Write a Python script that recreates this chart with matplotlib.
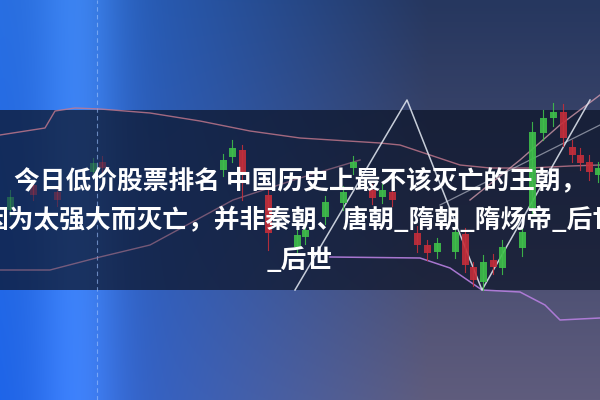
import numpy as np
import matplotlib
matplotlib.use("Agg")
import matplotlib.pyplot as plt
from matplotlib.patches import Rectangle

# TITLE LINES (CENTRED, OVERFLOWING THE IMAGE LIKE THE ORIGINAL)
title_lines = ["今日低价股票排名 中国历史上最不该灭亡的王朝，",
               "因为太强大而灭亡，并非秦朝、唐朝_隋朝_隋炀帝_后世",
               "_后世"]

# CANDLES: POSITION, OPEN, CLOSE, HIGH, LOW (IMAGE ROWS, SMALLER = HIGHER)
candle_x = [10, 33, 57, 93, 102, 223, 232, 242, 268, 297, 305, 325, 343,
            353, 372, 382, 392, 417, 427, 437, 455, 465, 473, 483, 493,
            502, 522, 532, 543, 553, 563, 572, 580, 589, 598]
candle_open = [210, 185, 192, 172, 162, 170, 157, 150, 195, 247, 237, 217,
               203, 168, 190, 197, 192, 233, 245, 252, 252, 234, 267, 282,
               260, 268, 248, 208, 133, 118, 112, 147, 155, 162, 175]
candle_close = [197, 195, 200, 163, 168, 160, 148, 173, 233, 235, 230, 202,
                192, 162, 198, 190, 200, 245, 253, 243, 232, 265, 280, 262,
                267, 247, 232, 132, 118, 112, 138, 155, 163, 172, 168]
candle_high = [190, 180, 186, 158, 156, 154, 140, 145, 188, 228, 224, 196,
               186, 156, 184, 184, 186, 226, 240, 238, 226, 228, 262, 255,
               254, 240, 226, 122, 110, 103, 104, 140, 148, 155, 162]
candle_low = [216, 200, 206, 178, 174, 176, 162, 200, 250, 255, 244, 224,
              210, 174, 204, 203, 206, 252, 260, 258, 258, 272, 286, 290,
              274, 274, 256, 215, 140, 126, 146, 162, 170, 180, 182]

# INDICATOR LINES
ma_upper_x = [0, 45, 55, 75, 100, 150, 200, 250, 300, 380, 400, 430, 460,
              490, 530, 570, 600]
ma_upper_y = [135, 128, 111, 108, 109, 113, 121, 131, 138, 143, 145, 155,
              165, 168, 168, 166, 165]
ma_lower_x = [0, 50, 100, 150, 233, 300, 360]
ma_lower_y = [270, 270, 257, 245, 200, 178, 160]
ma_rise_x = [470, 520, 560, 600]
ma_rise_y = [200, 160, 125, 95]
purple_x = [330, 420, 450, 482, 520, 545, 560, 600]
purple_y = [257, 258, 268, 290, 292, 305, 320, 318]
zigzag_x = [295, 407, 482, 590]
zigzag_y = [290, 100, 290, 100]
grey_x = [440, 500, 560, 600]
grey_y = [205, 175, 145, 125]

# BACKGROUND: BLUE GRADIENT WITH A LIGHT BEAM ON THE LEFT
W, H = 600, 400
xx, yy = np.meshgrid(np.linspace(0, 1, W), np.linspace(0, 1, H))
top = np.array([40, 110, 225]) / 255
top_r = np.array([38, 55, 95]) / 255
bot = np.array([30, 100, 232]) / 255
bot_r = np.array([95, 92, 125]) / 255
t = np.clip(xx * 1.4, 0, 1)[..., None]
v = yy[..., None]
left = top * (1 - v) + bot * v
right = top_r * (1 - v) + bot_r * v
bg = left * (1 - t) + right * t
beam = np.exp(-((xx - 0.13) / 0.07) ** 2)[..., None]
bg = np.clip(bg + beam * np.array([0.08, 0.12, 0.15]), 0, 1)

fig = plt.figure(figsize=(6, 4), dpi=100)
ax = fig.add_axes([0, 0, 1, 1])
ax.imshow(bg, extent=[0, W, H, 0], aspect="auto", zorder=0)

# DARK BAND BEHIND THE TITLE
ax.add_patch(Rectangle((0, 110), W, 180, color="#0c1428", alpha=0.72,
                       lw=0, zorder=1))

# VERTICAL DASHED GUIDE
ax.axvline(97, color="#9fc4ff", lw=0.8, ls=(0, (4, 3)), alpha=0.6, zorder=2)

# INDICATOR LINES
ax.plot(ma_upper_x, ma_upper_y, color="#c77a8e", lw=1, alpha=0.8, zorder=2)
ax.plot(ma_lower_x, ma_lower_y, color="#b5788f", lw=1, alpha=0.6, zorder=2)
ax.plot(ma_rise_x, ma_rise_y, color="#e8a8b8", lw=1, alpha=0.7, zorder=2)
ax.plot(purple_x, purple_y, color="#b77fe0", lw=1.1, alpha=0.9, zorder=2)
ax.plot(grey_x, grey_y, color="#c8ccd8", lw=0.9, alpha=0.6, zorder=2)
ax.plot(zigzag_x, zigzag_y, color="#e6ecf5", lw=1.1, alpha=0.85, zorder=3)

# CANDLES
for x, o, c, hi, lo in zip(candle_x, candle_open, candle_close,
                           candle_high, candle_low):
    col = "#3fbf4a" if c < o else "#c42e3a"
    fade = 0.35 if x < 120 else 0.9
    ax.plot([x, x], [hi, lo], color=col, lw=0.8, alpha=fade, zorder=3)
    ax.add_patch(Rectangle((x - 3.5, min(o, c)), 7, abs(o - c), color=col,
                           alpha=fade, lw=0, zorder=3))

# TITLE TEXT
for i, line in enumerate(title_lines):
    ax.text(300, 181 + 40 * i, line, color="white", fontsize=18.5,
            fontweight="bold", ha="center", va="center",
            family=["Noto Sans CJK SC", "DejaVu Sans"], zorder=5)

ax.set_xlim(0, W)
ax.set_ylim(H, 0)
ax.axis("off")

fig.savefig("out.png", dpi=100)
